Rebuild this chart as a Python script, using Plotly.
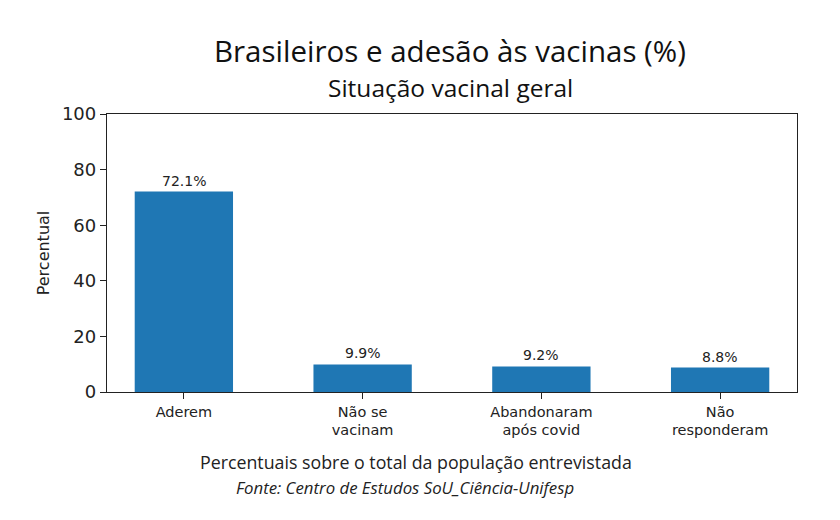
import plotly.graph_objects as go

categories = ["Aderem", "Não se<br>vacinam", "Abandonaram<br>após covid", "Não<br>responderam"]
values = [72.1, 9.9, 9.2, 8.8]
labels = ["72.1%", "9.9%", "9.2%", "8.8%"]
y_ticks = [0, 20, 40, 60, 80, 100]

bar_color = "#1f77b4"
tick_font = "DejaVu Sans"
text_font = "Open Sans"

fig = go.Figure()
fig.add_trace(go.Bar(
    x=list(range(len(categories))), y=values, width=0.55,
    marker=dict(color=bar_color, line=dict(width=0)),
    hoverinfo="skip",
))

for i, (v, t) in enumerate(zip(values, labels)):
    fig.add_annotation(x=i, y=v, text=t, showarrow=False, yanchor="bottom", yshift=1,
                       font=dict(family=tick_font, size=14, color="#222"))

fig.update_layout(
    width=840, height=520,
    margin=dict(l=107, r=43, t=114, b=128),
    plot_bgcolor="white", paper_bgcolor="white",
    showlegend=False,
    xaxis=dict(
        range=[-0.43, 3.43], tickmode="array", tickvals=list(range(len(categories))),
        ticktext=categories, ticks="outside", ticklen=6, tickcolor="#222",
        showline=True, linecolor="#222", linewidth=1.3, mirror=True,
        showgrid=False, zeroline=False,
        tickfont=dict(family=tick_font, size=14.5, color="#222"),
    ),
    yaxis=dict(
        range=[0, 100], tickvals=y_ticks, ticks="outside", ticklen=6, tickcolor="#222",
        showline=True, linecolor="#222", linewidth=1.3, mirror=True,
        showgrid=False, zeroline=False,
        tickfont=dict(family=tick_font, size=18, color="#222"),
        title=dict(text="Percentual", font=dict(family=tick_font, size=16, color="#222"), standoff=8),
    ),
)

fig.add_annotation(xref="paper", yref="paper", x=(416 - 107) / 690, y=0, yshift=-70, yanchor="middle",
                   text="Percentuais sobre o total da população entrevistada", showarrow=False,
                   font=dict(family=text_font, size=17.8, color="#222"))
fig.add_annotation(xref="paper", yref="paper", x=(405 - 107) / 690, y=0, yshift=-95, yanchor="middle",
                   text="<i>Fonte: Centro de Estudos SoU_Ciência-Unifesp</i>", showarrow=False,
                   font=dict(family=text_font, size=16.8, color="#222"))
fig.add_annotation(xref="paper", yref="paper", x=(450 - 107) / 690, y=1, yshift=64, yanchor="middle",
                   text="Brasileiros e adesão às vacinas (%)", showarrow=False,
                   font=dict(family=text_font, size=29.5, color="#111"))
fig.add_annotation(xref="paper", yref="paper", x=(450 - 107) / 690, y=1, yshift=27, yanchor="middle",
                   text="Situação vacinal geral", showarrow=False,
                   font=dict(family=text_font, size=24.5, color="#111"))

fig.write_html("out.html")
